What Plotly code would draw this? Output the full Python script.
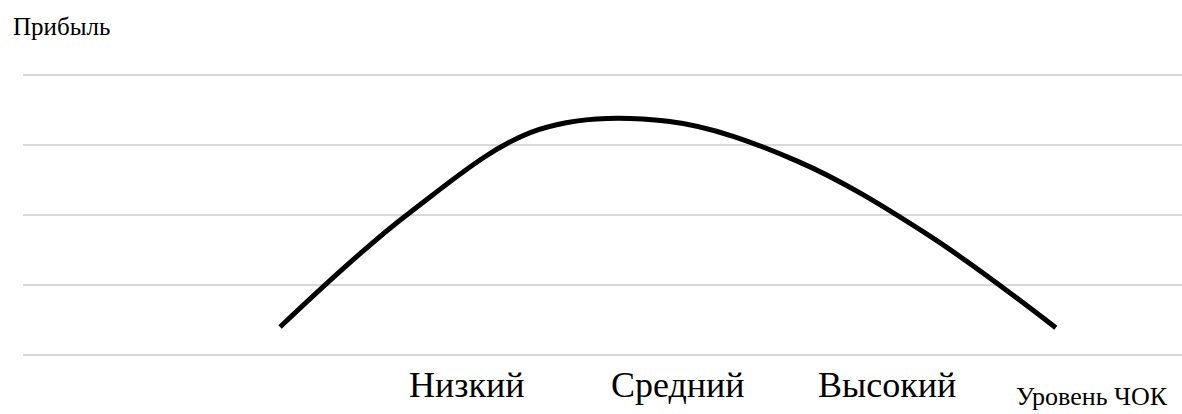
import plotly.graph_objects as go

# Profit curve across the working-capital level (ЧОК)
levels = [1, 2, 3, 4, 5, 6, 7]
profit = [0.40, 2.03, 3.22, 3.34, 2.77, 1.73, 0.39]

category_labels = ["Низкий", "Средний", "Высокий"]
category_label_x = [2.446, 4.078, 5.694]

y_title = "Прибыль"
x_title = "Уровень ЧОК"

serif = "Liberation Serif, Times New Roman, serif"

fig = go.Figure()
fig.add_trace(go.Scatter(
    x=levels, y=profit, mode="lines",
    line=dict(color="black", width=5, shape="spline", smoothing=1),
    hoverinfo="skip", showlegend=False,
))

for label, lx in zip(category_labels, category_label_x):
    fig.add_annotation(
        x=lx, y=0, xref="x", yref="paper", text=label, showarrow=False,
        xanchor="center", yanchor="top", yshift=-1,
        font=dict(family=serif, size=36, color="black"),
    )

fig.add_annotation(
    x=0, y=1, xref="paper", yref="paper", text=y_title, showarrow=False,
    xanchor="left", yanchor="bottom", xshift=-12, yshift=26,
    font=dict(family=serif, size=25, color="black"),
)
# axis caption kept fully inside the bottom edge
fig.add_annotation(
    x=1, y=0, xref="paper", yref="paper", text=x_title, showarrow=False,
    xanchor="right", yanchor="bottom", xshift=-12, yshift=-51,
    font=dict(family=serif, size=26, color="black"),
)

fig.update_xaxes(
    range=[-0.988, 7.976], showgrid=False, zeroline=False,
    showticklabels=False, ticks="", showline=False,
)
fig.update_yaxes(
    range=[-0.1, 4.1], dtick=1, tick0=0, showgrid=True, gridcolor="#d9d9d9",
    gridwidth=1.5, zeroline=False, showticklabels=False, ticks="", showline=False,
)
fig.update_layout(
    width=1182, height=414,
    margin=dict(l=23, r=0, t=68, b=52),
    paper_bgcolor="white", plot_bgcolor="white",
)

fig.write_html("out.html")
